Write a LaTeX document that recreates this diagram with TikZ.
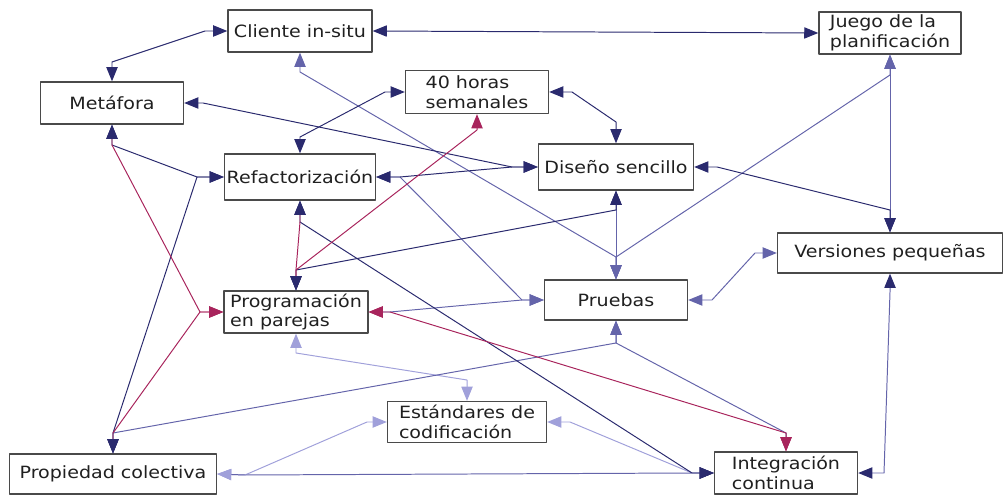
\documentclass[tikz,border=0pt]{standalone}
\usepackage{fontspec}
\setmainfont{DejaVu Sans}[FakeStretch=1.13]
\usepackage{tikz}
\usetikzlibrary{arrows.meta}
\definecolor{linkDark}{HTML}{2A2A6E}
\definecolor{linkMid}{HTML}{6464AA}
\definecolor{linkLight}{HTML}{A0A0DA}
\definecolor{linkRed}{HTML}{A8245C}
\definecolor{boxGray}{HTML}{4A4A4A}
\definecolor{textGray}{HTML}{202020}

\tikzset{
  practice/.style={draw=boxGray,line width=1pt,fill=white,align=left,inner sep=1pt,
    text=textGray,font=\fontsize{12}{14}\selectfont},
  boxsize/.style 2 args={minimum width=#1*0.025cm,minimum height=#2*0.025cm},
  link/.style={line width=0.7pt},
  tipD/.tip={Triangle[length=10pt,width=8pt,color=linkDark,fill=linkDark]},
  tipM/.tip={Triangle[length=10pt,width=8pt,color=linkMid,fill=linkMid]},
  tipL/.tip={Triangle[length=10pt,width=8pt,color=linkLight,fill=linkLight]},
  tipR/.tip={Triangle[length=10pt,width=8pt,color=linkRed,fill=linkRed]},
}

\begin{document}
\begin{tikzpicture}[line cap=round,line join=round,x=0.025cm,y=-0.025cm]
    \useasboundingbox (0,0) rectangle (1004,497);

    % practicas
    \node[practice,boxsize={144}{42}] (cliente) at (300,31) {Cliente in-situ};
    \node[practice,boxsize={142}{42}] (juego) at (890,33) {Juego de la\\planificación};
    \node[practice,boxsize={143}{42}] (metafora) at (112,103) {Metáfora};
    \node[practice,boxsize={143}{43}] (horas) at (477,92) {40 horas\\semanales};
    \node[practice,boxsize={151}{46}] (refact) at (300,177) {Refactorización};
    \node[practice,boxsize={155}{46}] (diseno) at (616,167) {Diseño sencillo};
    \node[practice,boxsize={225}{40}] (versiones) at (890,253) {Versiones pequeñas};
    \node[practice,boxsize={143}{40}] (pruebas) at (616,300) {Pruebas};
    \node[practice,boxsize={144}{42}] (pareja) at (296,312) {Programación\\en parejas};
    \node[practice,boxsize={159}{41}] (estandar) at (467,422) {Estándares de\\codificación};
    \node[practice,boxsize={207}{40}] (propiedad) at (113,474) {Propiedad colectiva};
    \node[practice,boxsize={143}{42}] (integra) at (786,473) {Integración\\continua};

    % puntos de paso
    \coordinate (jMeN) at (112,62);
    \coordinate (jClW) at (205,31);
    \coordinate (jClS) at (300,72);
    \coordinate (jJuS) at (890,75);
    \coordinate (jPrN) at (616,257);
    \coordinate (jVeN) at (890,210);
    \coordinate (jDiE) at (717,167);
    \coordinate (jHoE) at (572,92);
    \coordinate (jDiN) at (616,122);
    \coordinate (jHoW) at (385,92);
    \coordinate (jReN) at (300,137);
    \coordinate (jMeE) at (203,103);
    \coordinate (jDiW) at (512,167);
    \coordinate (jReE) at (400,177);
    \coordinate (jMeS) at (112,145);
    \coordinate (jReW) at (197,177);
    \coordinate (jPoN) at (113,433);
    \coordinate (jPaW) at (200,312);
    \coordinate (jReS) at (300,222);
    \coordinate (jPaN) at (296,270);
    \coordinate (jHoS) at (477,130);
    \coordinate (jDiS) at (616,210);
    \coordinate (jInW) at (692,473);
    \coordinate (jPoE) at (245,475);
    \coordinate (jEsW) at (367,422);
    \coordinate (jEsE) at (570,422);
    \coordinate (jPaS) at (296,353);
    \coordinate (jEsN) at (467,380);
    \coordinate (jPaE) at (390,312);
    \coordinate (jPrW) at (522,300);
    \coordinate (jInN) at (786,433);
    \coordinate (jPrS) at (616,343);
    \coordinate (jPrE) at (712,300);
    \coordinate (jVeW) at (755,253);
    \coordinate (jVeS) at (890,292);
    \coordinate (jInE) at (884,473);

    % claras
    \draw[link,linkLight,tipL-tipL] (propiedad.east) -- (jPoE) -- (jEsW) -- (estandar.west);
    \draw[link,linkLight,tipL-tipD] (estandar.east) -- (jEsE) -- (jInW) -- (integra.west);
    \draw[link,linkLight,tipL-tipL] (pareja.south) -- (jPaS) -- (jEsN) -- (estandar.north);

    % medias
    \draw[link,linkMid,tipM-tipM] (cliente.south) -- (jClS) -- (jPrN) -- (pruebas.north);
    \draw[link,linkMid,tipM-tipM] (juego.south) -- (jJuS) -- (jPrN) -- (pruebas.north);
    \draw[link,linkMid,tipM-tipD] (juego.south) -- (jJuS) -- (jVeN) -- (versiones.north);
    \draw[link,linkMid,tipD-tipM] (diseno.south) -- (jDiS) -- (jPrN) -- (pruebas.north);
    \draw[link,linkMid,tipD-tipM] (refact.east) -- (jReE) -- (jPrW) -- (pruebas.west);
    \draw[link,linkMid,tipR-tipM] (pareja.east) -- (jPaE) -- (jPrW) -- (pruebas.west);
    \draw[link,linkMid,tipM-tipR] (pruebas.south) -- (jPrS) -- (jInN) -- (integra.north);
    \draw[link,linkMid,tipM-tipD] (pruebas.south) -- (jPrS) -- (jPoN) -- (propiedad.north);
    \draw[link,linkMid,tipM-tipM] (pruebas.east) -- (jPrE) -- (jVeW) -- (versiones.west);
    \draw[link,linkMid,tipD-tipD] (versiones.south) -- (jVeS) -- (jInE) -- (integra.east);
    \draw[link,linkMid,tipL-tipD] (propiedad.east) -- (jPoE) -- (jInW) -- (integra.west);

    % oscuras
    \draw[link,linkDark,tipD-tipD] (metafora.north) -- (jMeN) -- (jClW) -- (cliente.west);
    \draw[link,linkDark,tipD-tipD] (cliente.east) -- (juego.west);
    \draw[link,linkDark,tipD-tipD] (versiones.north) -- (jVeN) -- (jDiE) -- (diseno.east);
    \draw[link,linkDark,tipD-tipD] (horas.east) -- (jHoE) -- (jDiN) -- (diseno.north);
    \draw[link,linkDark,tipD-tipD] (horas.west) -- (jHoW) -- (jReN) -- (refact.north);
    \draw[link,linkDark,tipD-tipD] (metafora.east) -- (jMeE) -- (jDiW) -- (diseno.west);
    \draw[link,linkDark,tipD-tipD] (refact.east) -- (jReE) -- (jDiW) -- (diseno.west);
    \draw[link,linkDark,tipD-tipD] (metafora.south) -- (jMeS) -- (jReW) -- (refact.west);
    \draw[link,linkDark,tipD-tipD] (refact.west) -- (jReW) -- (jPoN) -- (propiedad.north);
    \draw[link,linkDark,tipD-tipD] (pareja.north) -- (jPaN) -- (jDiS) -- (diseno.south);
    \draw[link,linkDark,tipD-tipD] (refact.south) -- (jReS) -- (jInW) -- (integra.west);

    % rojas
    \draw[link,linkRed,tipD-tipR] (metafora.south) -- (jMeS) -- (jPaW) -- (pareja.west);
    \draw[link,linkRed,tipR-tipD] (pareja.west) -- (jPaW) -- (jPoN) -- (propiedad.north);
    \draw[link,linkRed,tipD-tipD] (refact.south) -- (jReS) -- (jPaN) -- (pareja.north);
    \draw[link,linkRed,tipD-tipR] (pareja.north) -- (jPaN) -- (jHoS) -- (horas.south);
    \draw[link,linkRed,tipR-tipR] (pareja.east) -- (jPaE) -- (jInN) -- (integra.north);
\end{tikzpicture}
\end{document}
